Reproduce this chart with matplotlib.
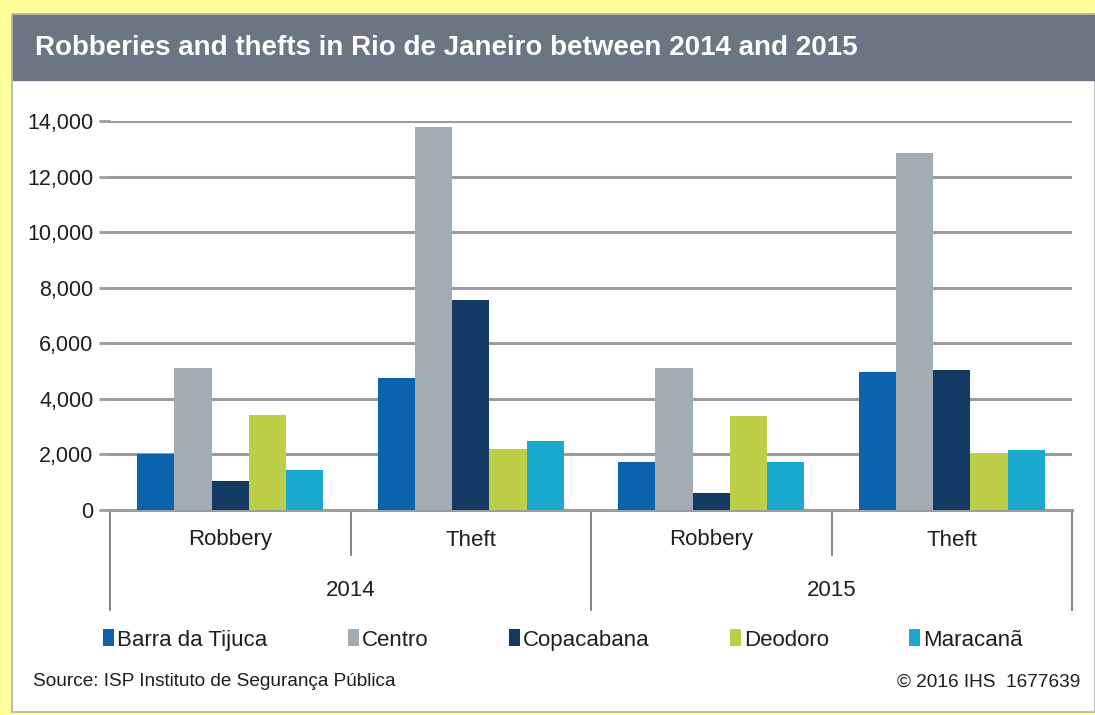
import numpy as np
import matplotlib
matplotlib.use("Agg")
from matplotlib import pyplot as plt
from matplotlib.patches import Rectangle
from matplotlib.ticker import FuncFormatter

# ---- data
years = ["2014", "2015"]
crimes = ["Robbery", "Theft"]
districts = ["Barra da Tijuca", "Centro", "Copacabana", "Deodoro", "Maracanã"]
barra = [2000, 4750, 1730, 4950]
centro = [5100, 13800, 5100, 12850]
copacabana = [1040, 7550, 600, 5030]
deodoro = [3420, 2180, 3380, 2050]
maracana = [1450, 2500, 1730, 2150]

colors = ["#0b63ad", "#a3abb3", "#123a63", "#bccf47", "#1aa8cf"]

plt.rcParams["font.family"] = ["Liberation Sans Narrow", "Liberation Sans", "DejaVu Sans"]

fig = plt.figure(figsize=(10.95, 7.15), dpi=100)
W, H = 1095, 715

# ---- frame: yellow border, white panel, grey title band
fig.patches.append(Rectangle((0, 0), 1, 1, transform=fig.transFigure,
                             color="#ffff99", zorder=-10))
fig.patches.append(Rectangle((12 / W, 3 / H), 1 - 12 / W, 1 - 17 / H,
                             transform=fig.transFigure, facecolor="white",
                             edgecolor="#b0b0b0", lw=1.2, zorder=-9))
fig.patches.append(Rectangle((13 / W, 1 - 80 / H), 1 - 13 / W, 65 / H,
                             transform=fig.transFigure, color="#6c7683", zorder=-8))
fig.text(35 / W, 1 - 48 / H, "Robberies and thefts in Rio de Janeiro between 2014 and 2015",
         color="white", fontsize=20, fontweight="bold", va="center", ha="left")

# ---- axes
ax = fig.add_axes([110 / W, 1 - 510 / H, 962 / W, 389 / H])
series = [barra, centro, copacabana, deodoro, maracana]
n = len(series)
x = np.arange(len(years) * len(crimes))
bw = 0.155
for i, (vals, name) in enumerate(zip(series, districts)):
    ax.bar(x + (i - (n - 1) / 2) * bw, vals, width=bw, color=colors[i],
           label=name, zorder=3)

ax.set_xlim(-0.5, len(x) - 0.5)
ax.set_ylim(0, 14000)
ax.set_yticks(np.arange(0, 14001, 2000))
ax.yaxis.set_major_formatter(FuncFormatter(lambda v, p: f"{int(v):,}"))
ax.grid(axis="y", color="#9c9c9c", lw=2.2, zorder=0)
ax.tick_params(axis="y", labelsize=15.5, length=8, color="#9c9c9c", width=2,
               labelcolor="#1e1e1e", pad=4)
ax.tick_params(axis="x", bottom=False, labelbottom=False)
for s in ["top", "right", "left"]:
    ax.spines[s].set_visible(False)
ax.spines["bottom"].set_color("#9c9c9c")
ax.spines["bottom"].set_linewidth(2.2)

# ---- two-level category axis
trans = ax.get_xaxis_transform()
for k, xi in enumerate(x):
    ax.text(xi, -30 / 389, crimes[k % 2], transform=trans, ha="center",
            va="center", fontsize=16, color="#1e1e1e")
for j, yr in enumerate(years):
    ax.text(2 * j + 0.5, -80 / 389, yr, transform=trans, ha="center",
            va="center", fontsize=16, color="#1e1e1e")
for b in np.arange(-0.5, len(x), 1.0):
    long_line = (b + 0.5) % 2 == 0
    y_end = -100 / 389 if long_line else -45 / 389
    ax.plot([b, b], [0, y_end], transform=trans, color="#707070", lw=1.2,
            clip_on=False)

# ---- legend and footer
leg = fig.legend(loc="center", bbox_to_anchor=(563 / W, 1 - 640 / H), ncol=5,
                 frameon=False, fontsize=16, handlelength=0.5, handleheight=0.8,
                 handletextpad=0.15, columnspacing=3.6)
for t in leg.get_texts():
    t.set_color("#1e1e1e")
fig.text(33 / W, 1 - 682 / H, "Source: ISP Instituto de Segurança Pública",
         fontsize=13.7, color="#1e1e1e", va="center", ha="left")
fig.text(1080 / W, 1 - 682 / H, "© 2016 IHS  1677639",
         fontsize=13.7, color="#1e1e1e", va="center", ha="right")

fig.savefig("out.png", dpi=100)
